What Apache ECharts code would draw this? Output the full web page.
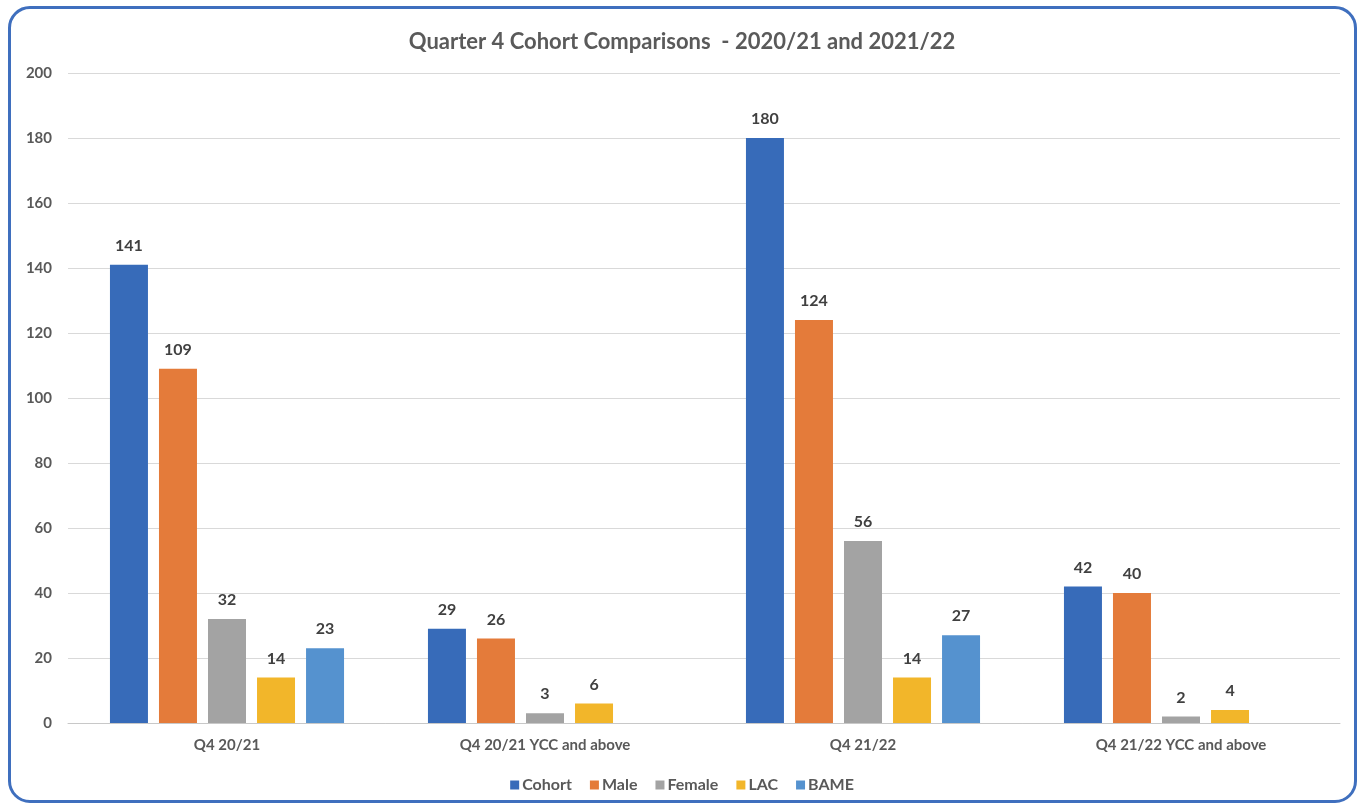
<!DOCTYPE html>
<html>
<head>
<meta charset="utf-8">
<style>
  html, body { margin: 0; padding: 0; background: #ffffff; }
  #frame {
    position: absolute; left: 8px; top: 6px; width: 1349px; height: 797px;
    border: 3px solid #3f6fbe; border-radius: 22px; box-sizing: border-box; background: #fff;
  }
  #chart { position: absolute; left: 0; top: 0; width: 1364px; height: 810px; }
</style>
<script src="https://cdn.jsdelivr.net/npm/echarts@6/dist/echarts.min.js"></script>
</head>
<body>
<div id="frame"></div>
<div id="chart"></div>
<script>
// Category groups along the x axis
const categories = ['Q4 20/21', 'Q4 20/21 YCC and above', 'Q4 21/22', 'Q4 21/22 YCC and above'];

// Series values per group (null = no bar drawn)
const cohort = [141, 29, 180, 42];
const male   = [109, 26, 124, 40];
const female = [32, 3, 56, 2];
const lac    = [14, 6, 14, 4];
const bame   = [23, null, 27, null];

const seriesNames = ['Cohort', 'Male', 'Female', 'LAC', 'BAME'];
const seriesData  = [cohort, male, female, lac, bame];
const colors = ['#376bb9', '#e47b3a', '#a3a3a3', '#f2b62a', '#5592cf'];

const font = 'Lato, "Open Sans", sans-serif';

const chart = echarts.init(document.getElementById('chart'));
chart.setOption({
  animation: false,
  title: {
    text: 'Quarter 4 Cohort Comparisons  - 2020/21 and 2021/22',
    left: 'center', top: 26,
    textStyle: { fontFamily: font, fontSize: 22, fontWeight: 'bold', color: '#5a5a5a' }
  },
  legend: {
    bottom: 12, left: 'center',
    itemWidth: 9, itemHeight: 9, itemGap: 18,
    icon: 'rect',
    textStyle: { fontFamily: font, fontSize: 16, fontWeight: 'bold', color: '#595959', padding: [0, 0, 0, -2] },
    data: seriesNames
  },
  grid: { left: 68, right: 24, top: 73, bottom: 87, containLabel: false },
  xAxis: {
    type: 'category', data: categories,
    axisLine: { lineStyle: { color: '#c8c8c8' } },
    axisTick: { show: false },
    axisLabel: { fontFamily: font, fontSize: 15, fontWeight: 'bold', color: '#595959', margin: 15 }
  },
  yAxis: {
    type: 'value', min: 0, max: 200, interval: 20,
    axisLine: { show: false }, axisTick: { show: false },
    axisLabel: { fontFamily: font, fontSize: 15, fontWeight: 'bold', color: '#595959', margin: 16 },
    splitLine: { lineStyle: { color: '#d9d9d9', width: 1 } }
  },
  series: seriesNames.map((name, i) => ({
    name, type: 'bar', data: seriesData[i],
    barWidth: 38, barGap: '29%',
    itemStyle: { color: colors[i] },
    label: {
      show: true, position: 'top', distance: 11,
      fontFamily: font, fontSize: 16, fontWeight: 'bold', color: '#404040'
    }
  }))
});
</script>
</body>
</html>
